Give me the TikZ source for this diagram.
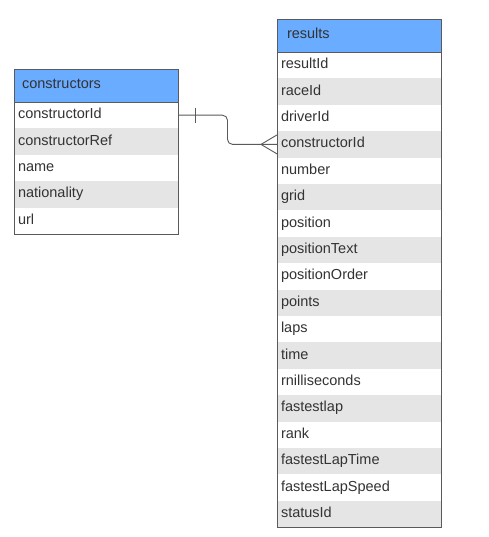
\documentclass[tikz,border=0pt]{standalone}
\usepackage{fontspec}
\setmainfont{Liberation Sans}
\usetikzlibrary{calc}
\definecolor{hdr}{RGB}{106,172,255}
\definecolor{alt}{RGB}{229,229,229}
\definecolor{edge}{RGB}{90,90,90}
\definecolor{txt}{RGB}{51,51,51}
\tikzset{
  tcell/.style={anchor=north west, minimum width=164pt, minimum height=26.4pt,
    inner xsep=4pt, inner ysep=0pt, outer sep=0pt, text width=156pt, align=left, text=txt,
    text height=10.5pt, text depth=3.5pt,
    font=\fontsize{14.5}{16}\selectfont},
  hcell/.style={tcell, fill=hdr, minimum height=33pt, inner xsep=8pt, text width=148pt},
  whiterow/.style={tcell, fill=white},
  greyrow/.style={tcell, fill=alt},
  tblframe/.style={draw=edge, line width=0.9pt},
  relline/.style={draw=edge, line width=0.9pt}
}
\begin{document}
\begin{tikzpicture}[x=1pt,y=-1pt]
\useasboundingbox (0,0) rectangle (488,537);
\fill[white] (0,0) rectangle (488,537);
% constructors table
\node[hcell] (ch) at (14,69) {constructors};
\node[whiterow] (c1) at (14,102) {constructorId};
\node[greyrow] (c2) at (c1.south west) {constructorRef};
\node[whiterow] (c3) at (c2.south west) {name};
\node[greyrow] (c4) at (c3.south west) {nationality};
\node[whiterow] (c5) at (c4.south west) {url};
\draw[tblframe] (ch.north west) rectangle (c5.south east);
\draw[tblframe] (ch.south west) -- (ch.south east);
% results table
\node[hcell, inner xsep=10pt, text width=144pt] (rh) at (277,19) {results};
\node[whiterow] (r1) at (277,52) {resultId};
\node[greyrow] (r2) at (r1.south west) {raceId};
\node[whiterow] (r3) at (r2.south west) {driverId};
\node[greyrow] (r4) at (r3.south west) {constructorId};
\node[whiterow] (r5) at (r4.south west) {number};
\node[greyrow] (r6) at (r5.south west) {grid};
\node[whiterow] (r7) at (r6.south west) {position};
\node[greyrow] (r8) at (r7.south west) {positionText};
\node[whiterow] (r9) at (r8.south west) {positionOrder};
\node[greyrow] (r10) at (r9.south west) {points};
\node[whiterow] (r11) at (r10.south west) {laps};
\node[greyrow] (r12) at (r11.south west) {time};
\node[whiterow] (r13) at (r12.south west) {rnilliseconds};
\node[greyrow] (r14) at (r13.south west) {fastestlap};
\node[whiterow] (r15) at (r14.south west) {rank};
\node[greyrow] (r16) at (r15.south west) {fastestLapTime};
\node[whiterow] (r17) at (r16.south west) {fastestLapSpeed};
\node[greyrow] (r18) at (r17.south west) {statusId};
\draw[tblframe] (rh.north west) rectangle (r18.south east);
\draw[tblframe] (rh.south west) -- (rh.south east);
% relationship
\draw[relline, rounded corners=5pt] (c1.east) -| ($(c1.east)!0.5!(r4.west)$) |- (r4.west);
\draw[relline] ($(c1.east)+(17,-7.5)$) -- ($(c1.east)+(17,7.5)$);
\draw[relline] ($(r4.west)+(0,-9.5)$) -- ($(r4.west)+(-16,0)$) -- ($(r4.west)+(0,9.5)$);
\end{tikzpicture}
\end{document}
